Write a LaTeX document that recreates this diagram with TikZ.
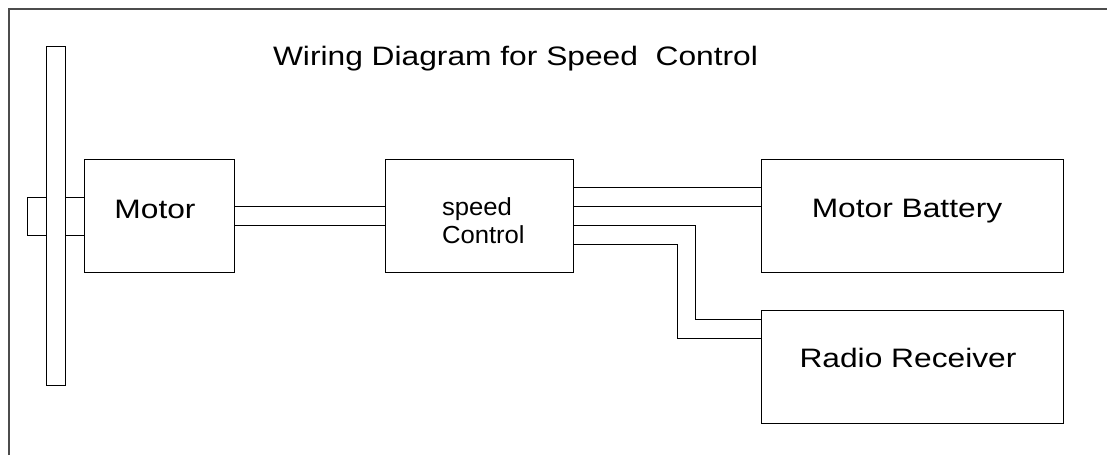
\documentclass[tikz,border=0pt]{standalone}
\usepackage{fontspec}
\setmainfont{Liberation Sans}
\def\u{0.75pt}
\tikzset{
  box/.style={draw=black,line width=0.75pt,fill=white,inner sep=0pt,outer sep=0pt,anchor=north west},
  wire/.style={draw=black,line width=0.75pt},
  frameline/.style={draw=black!70,line width=0.9pt},
  lab/.style={inner sep=0pt,outer sep=0pt,anchor=base,xscale=1.19,transform shape,font=\fontsize{20pt}{20pt}\selectfont},
  smalllab/.style={inner sep=0pt,outer sep=0pt,anchor=base west,xscale=1.04,transform shape,font=\fontsize{18.5pt}{18.5pt}\selectfont},
}
\begin{document}
\begin{tikzpicture}[x=0.75pt,y=-0.75pt]
\useasboundingbox (0,0) rectangle (1107,455);
\draw[frameline] (9,455) -- (9,9) -- (1107,9);
% hubs and disc
\node[box,minimum width=19*\u,minimum height=38*\u] (hubl) at (27,197) {};
\node[box,minimum width=19*\u,minimum height=38*\u] (hubr) at (65,197) {};
\node[box,minimum width=19*\u,minimum height=339*\u] (disc) at (46,46) {};
% blocks
\node[box,minimum width=150*\u,minimum height=113*\u] (motor) at (84,159) {};
\node[box,minimum width=188*\u,minimum height=113*\u] (speed) at (385,159) {};
\node[box,minimum width=302*\u,minimum height=113*\u] (battery) at (761,159) {};
\node[box,minimum width=302*\u,minimum height=113*\u] (radio) at (761,310) {};
% wire levels
\coordinate (w1) at (0,187.7);
\coordinate (w2) at (0,206.6);
\coordinate (w3) at (0,225.6);
\coordinate (w4) at (0,244);
\coordinate (r1) at (0,319.3);
\coordinate (r2) at (0,338.3);
\coordinate (v1) at (695.7,0);
\coordinate (v2) at (677,0);
\draw[wire] (motor.east |- w2) -- (speed.west |- w2);
\draw[wire] (motor.east |- w3) -- (speed.west |- w3);
\draw[wire] (speed.east |- w1) -- (battery.west |- w1);
\draw[wire] (speed.east |- w2) -- (battery.west |- w2);
\draw[wire] (speed.east |- w3) -- (v1 |- w3) -- (v1 |- r1) -- (radio.west |- r1);
\draw[wire] (speed.east |- w4) -- (v2 |- w4) -- (v2 |- r2) -- (radio.west |- r2);
% labels
\node[lab] (title) at (515.5,65) {Wiring Diagram for Speed\ \ Control};
\node[lab] (tmotor) at (155,218) {Motor};
\node[smalllab] (tspeed) at (442,215) {speed};
\node[smalllab] (tcontrol) at (442,243) {Control};
\node[lab] (tbattery) at (907,217) {Motor Battery};
\node[lab] (tradio) at (908,367) {Radio Receiver};
\end{tikzpicture}
\end{document}
